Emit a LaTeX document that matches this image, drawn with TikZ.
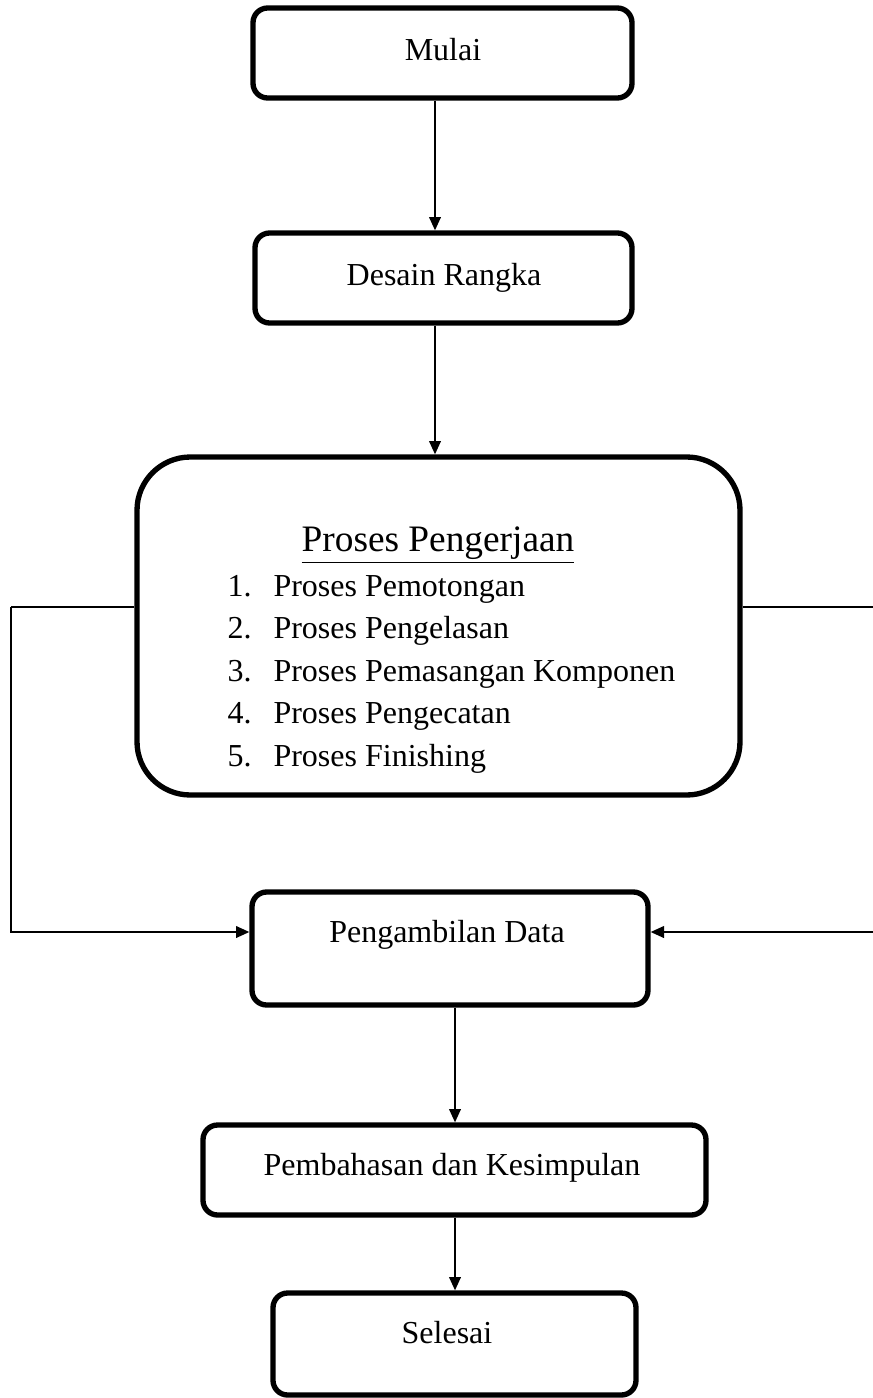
\documentclass[tikz,border=0pt]{standalone}
\usepackage{fontspec}
\setmainfont{Liberation Serif}
\usetikzlibrary{arrows.meta,fit}

\tikzset{
  box/.style={draw, line width=2pt, rounded corners=5.5pt, inner sep=0pt},
  bigbox/.style={draw, line width=2pt, rounded corners=20pt, inner sep=0pt},
  conn/.style={line width=0.6pt, -{Triangle[length=5pt,width=4.4pt]}},
  link/.style={line width=0.6pt},
  lbl/.style={anchor=base, font=\fontsize{12}{14}\selectfont}
}

\begin{document}
\begin{tikzpicture}[x=0.375pt,y=-0.375pt]
\useasboundingbox (0,0) rectangle (873,1398);

% kotak-kotak
\node[box, fit={(253,8) (632,98)}] (mulai) {};
\node[box, fit={(255,233) (632,323)}] (desain) {};
\node[bigbox, fit={(137,457) (740,795)}] (proses) {};
\node[box, fit={(252,892) (648,1005)}] (ambil) {};
\node[box, fit={(203,1125) (706,1215)}] (bahas) {};
\node[box, fit={(273,1293) (636,1395)}] (selesai) {};

\node[lbl] (tmulai) at (443,61) {Mulai};
\node[lbl] (tdesain) at (444,285) {Desain Rangka};
\node[lbl] (tambil) at (447,942) {Pengambilan Data};
\node[lbl] (tbahas) at (452,1175) {Pembahasan dan Kesimpulan};
\node[lbl] (tselesai) at (447,1343) {Selesai};

% isi proses
\node[anchor=base, font=\fontsize{14}{17}\selectfont] (judul) at (438,551) {\underline{Proses Pengerjaan}};
\foreach \i/\t in {1/Proses Pemotongan, 2/Proses Pengelasan,
  3/Proses Pemasangan Komponen, 4/Proses Pengecatan, 5/Proses Finishing}
{
  \node[lbl, anchor=base west, inner xsep=0pt] (no\i) at (227,{596+42.5*(\i-1)}) {\i.};
  \node[lbl, anchor=base west, inner xsep=0pt] (item\i) at (273,{596+42.5*(\i-1)}) {\t};
}

% panah
\draw[conn] (435,0 |- mulai.south) -- (435,0 |- desain.north);
\draw[conn] (435,0 |- desain.south) -- (435,0 |- proses.north);
\draw[conn] (455,0 |- ambil.south) -- (455,0 |- bahas.north);
\draw[conn] (455,0 |- bahas.south) -- (455,0 |- selesai.north);

\coordinate (kiri) at (11,607);
\coordinate (kanan) at (873,607);
\draw[link] (proses.west |- kiri) -- (kiri);
\draw[conn] (kiri) -- (11,932) -- (ambil.west |- 0,932);
\draw[link] (proses.east |- kanan) -- (kanan);
\draw[conn] (873,932) -- (ambil.east |- 0,932);
\end{tikzpicture}
\end{document}
